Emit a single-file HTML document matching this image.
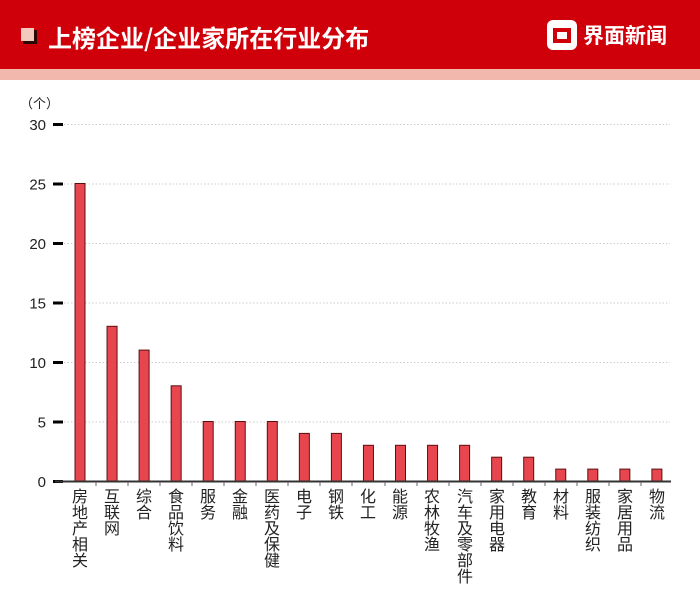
<!DOCTYPE html>
<html><head><meta charset="utf-8"><style>
html,body{margin:0;padding:0;background:#fff;}
svg{display:block;font-family:"Liberation Sans","Noto Sans CJK SC",sans-serif;}
.l{font-size:16px;fill:#222;font-family:"Noto Sans CJK SC",sans-serif;writing-mode:vertical-rl;glyph-orientation-vertical:0;letter-spacing:0px;}
</style></head><body>
<svg width="700" height="602" viewBox="0 0 700 602" xmlns="http://www.w3.org/2000/svg">
<rect x="0" y="0" width="700" height="69" fill="#d0000a"/>
<rect x="0" y="69" width="700" height="11" fill="#f2b8ad"/>
<rect x="23" y="30" width="14" height="14" fill="#2a0a00"/>
<rect x="21" y="28" width="13" height="13" fill="#f4c9bd"/>
<text x="48" y="47" font-size="24" font-weight="bold" fill="#fff" font-family="'Noto Sans CJK SC',sans-serif">上榜企业/企业家所在行业分布</text>
<rect x="547" y="20" width="30" height="30" rx="6" fill="#fff"/>
<path d="M553 28 L571 28 L571 43 L553 43 Z M557 32 L567 32 L567 39 L557 39 Z" fill="#d0000a" fill-rule="evenodd"/>
<text x="583" y="43" font-size="21" font-weight="bold" fill="#fff" font-family="'Noto Sans CJK SC',sans-serif">界面新闻</text>
<text x="20" y="108" font-size="13" fill="#222" font-family="'Noto Sans CJK SC',sans-serif">（个）</text>
<g stroke="#ccc" stroke-width="1" stroke-dasharray="1.5,2">
<line x1="64" y1="124.5" x2="670" y2="124.5"/>
<line x1="64" y1="184" x2="670" y2="184"/>
<line x1="64" y1="243.5" x2="670" y2="243.5"/>
<line x1="64" y1="303" x2="670" y2="303"/>
<line x1="64" y1="362.5" x2="670" y2="362.5"/>
<line x1="64" y1="422" x2="670" y2="422"/>
</g>
<g stroke="#000" stroke-width="3">
<line x1="53" y1="124.5" x2="63" y2="124.5"/>
<line x1="53" y1="184" x2="63" y2="184"/>
<line x1="53" y1="243.5" x2="63" y2="243.5"/>
<line x1="53" y1="303" x2="63" y2="303"/>
<line x1="53" y1="362.5" x2="63" y2="362.5"/>
<line x1="53" y1="422" x2="63" y2="422"/>
<line x1="53" y1="481.5" x2="63" y2="481.5"/>
</g>
<g font-size="15" fill="#222" text-anchor="end">
<text x="46" y="130">30</text><text x="46" y="189.5">25</text><text x="46" y="249">20</text>
<text x="46" y="308.5">15</text><text x="46" y="368">10</text><text x="46" y="427.5">5</text><text x="46" y="487">0</text>
</g>
<g fill="#e8464f" stroke="#5a1010" stroke-width="1">
<rect x="75" y="183.5" width="10" height="297.5"/>
<rect x="107.05" y="326.3" width="10" height="154.7"/>
<rect x="139.1" y="350.1" width="10" height="130.9"/>
<rect x="171.15" y="385.8" width="10" height="95.2"/>
<rect x="203.2" y="421.5" width="10" height="59.5"/>
<rect x="235.25" y="421.5" width="10" height="59.5"/>
<rect x="267.3" y="421.5" width="10" height="59.5"/>
<rect x="299.35" y="433.4" width="10" height="47.6"/>
<rect x="331.4" y="433.4" width="10" height="47.6"/>
<rect x="363.45" y="445.3" width="10" height="35.7"/>
<rect x="395.5" y="445.3" width="10" height="35.7"/>
<rect x="427.55" y="445.3" width="10" height="35.7"/>
<rect x="459.6" y="445.3" width="10" height="35.7"/>
<rect x="491.65" y="457.2" width="10" height="23.8"/>
<rect x="523.7" y="457.2" width="10" height="23.8"/>
<rect x="555.75" y="469.1" width="10" height="11.9"/>
<rect x="587.8" y="469.1" width="10" height="11.9"/>
<rect x="619.85" y="469.1" width="10" height="11.9"/>
<rect x="651.9" y="469.1" width="10" height="11.9"/>
</g>
<line x1="55" y1="481.5" x2="671" y2="481.5" stroke="#333" stroke-width="2"/>
<g stroke="#666" stroke-width="1">
<line x1="96" y1="482" x2="96" y2="486"/><line x1="128" y1="482" x2="128" y2="486"/><line x1="160" y1="482" x2="160" y2="486"/><line x1="192" y1="482" x2="192" y2="486"/><line x1="224" y1="482" x2="224" y2="486"/><line x1="256" y1="482" x2="256" y2="486"/><line x1="288" y1="482" x2="288" y2="486"/><line x1="320" y1="482" x2="320" y2="486"/><line x1="352" y1="482" x2="352" y2="486"/><line x1="385" y1="482" x2="385" y2="486"/><line x1="417" y1="482" x2="417" y2="486"/><line x1="449" y1="482" x2="449" y2="486"/><line x1="481" y1="482" x2="481" y2="486"/><line x1="513" y1="482" x2="513" y2="486"/><line x1="545" y1="482" x2="545" y2="486"/><line x1="577" y1="482" x2="577" y2="486"/><line x1="609" y1="482" x2="609" y2="486"/><line x1="641" y1="482" x2="641" y2="486"/>
</g>
<g class="l">
<text x="80" y="488">房地产相关</text>
<text x="112" y="488">互联网</text>
<text x="144" y="488">综合</text>
<text x="176" y="488">食品饮料</text>
<text x="208" y="488">服务</text>
<text x="240" y="488">金融</text>
<text x="272" y="488">医药及保健</text>
<text x="304" y="488">电子</text>
<text x="336" y="488">钢铁</text>
<text x="368" y="488">化工</text>
<text x="400" y="488">能源</text>
<text x="432" y="488">农林牧渔</text>
<text x="465" y="488">汽车及零部件</text>
<text x="497" y="488">家用电器</text>
<text x="529" y="488">教育</text>
<text x="561" y="488">材料</text>
<text x="593" y="488">服装纺织</text>
<text x="625" y="488">家居用品</text>
<text x="657" y="488">物流</text>
</g>
</svg>
</body></html>
